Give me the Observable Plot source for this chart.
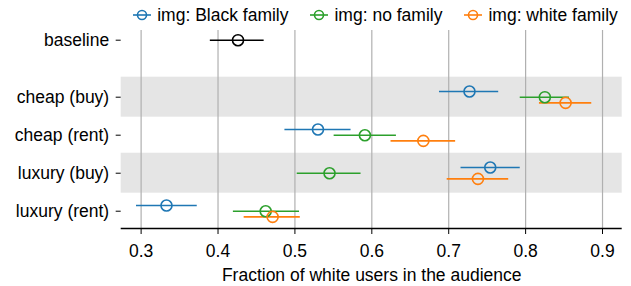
<!DOCTYPE html>
<html>
<head>
<meta charset="utf-8">
<script src="https://cdn.jsdelivr.net/npm/d3@7"></script>
<script src="https://cdn.jsdelivr.net/npm/@observablehq/plot@0.6"></script>
<style>
  html, body { margin: 0; padding: 0; background: #fff; }
  body { width: 631px; height: 286px; overflow: hidden; font-family: "Liberation Sans", Arial, Helvetica, sans-serif; }
  #legend { height: 30px; display: flex; justify-content: center; align-items: center; padding-left: 120px; box-sizing: border-box; width: 631px; font-size: 17.5px; color: #000; }
  .item { display: flex; align-items: center; margin: 0 11px; white-space: nowrap; }
  .item svg { margin-right: 6px; }
</style>
</head>
<body>
<div id="legend"></div>
<div id="chart"></div>
<script>
// ---- data ----
const categories = ["cheap (buy)", "cheap (rent)", "luxury (buy)", "luxury (rent)"];
const series = ["img: Black family", "img: no family", "img: white family"];
const colors = ["#1f77b4", "#2ca02c", "#ff7f0e"];
const shaded = ["cheap (buy)", "luxury (buy)"];

const blackVal = [0.727, 0.530, 0.754, 0.333];
const blackLo  = [0.688, 0.487, 0.716, 0.294];
const blackHi  = [0.765, 0.573, 0.793, 0.373];

const noVal = [0.825, 0.591, 0.545, 0.462];
const noLo  = [0.793, 0.551, 0.503, 0.420];
const noHi  = [0.857, 0.632, 0.586, 0.506];

const whiteVal = [0.852, 0.667, 0.738, 0.471];
const whiteLo  = [0.818, 0.625, 0.698, 0.434];
const whiteHi  = [0.886, 0.709, 0.778, 0.507];

const baselineLabel = "baseline";
const baselineVal = 0.426, baselineLo = 0.390, baselineHi = 0.460;

const xTicks = [0.3, 0.4, 0.5, 0.6, 0.7, 0.8, 0.9];
const xLabel = "Fraction of white users in the audience";

// ---- build table ----
const seriesData = [[blackVal, blackLo, blackHi], [noVal, noLo, noHi], [whiteVal, whiteLo, whiteHi]];
const offset = 0.15;
const basePos = -1.5;
const rows = [];
series.forEach((s, j) => {
  categories.forEach((c, i) => {
    rows.push({series: s, cat: c, pos: i + (j - 1) * offset,
               v: seriesData[j][0][i], lo: seriesData[j][1][i], hi: seriesData[j][2][i]});
  });
});
const base = [{series: baselineLabel, pos: basePos, v: baselineVal, lo: baselineLo, hi: baselineHi}];
const all = base.concat(rows);

const yTop = -1.755, yBottom = 3.455;
const tickPos = [basePos, ...categories.map((c, i) => i)];
const tickName = new Map([[basePos, baselineLabel], ...categories.map((c, i) => [i, c])]);
const bands = shaded.map(c => categories.indexOf(c));

const chart = Plot.plot({
  width: 631,
  height: 256,
  marginTop: 0,
  marginBottom: 58,
  marginLeft: 120.7,
  marginRight: 9.3,
  style: {fontFamily: "'Liberation Sans', Arial, Helvetica, sans-serif", fontSize: "17.5px", background: "#fff", overflow: "visible"},
  x: {domain: [0.2741, 0.9256]},
  y: {domain: [yBottom, yTop]},
  color: {domain: [baselineLabel, ...series], range: ["#000", ...colors]},
  marks: [
    Plot.rect(bands, {y1: d => d - 0.526, y2: d => d + 0.526, fill: "#e5e5e5"}),
    Plot.ruleX(xTicks, {stroke: "#b0b0b0", strokeWidth: 1.2}),
    Plot.ruleY([yBottom], {stroke: "#000", strokeWidth: 1.3}),
    Plot.ruleY(all, {y: "pos", x1: "lo", x2: "hi", stroke: "series", strokeWidth: 1.6}),
    Plot.dot(all, {x: "v", y: "pos", r: 5.5, stroke: "series", fill: "none", strokeWidth: 1.6}),
    Plot.axisY({ticks: tickPos, tickFormat: d => tickName.get(d), tickSize: 5, tickPadding: 7, label: null, fontSize: "17.5px"}),
    Plot.axisX({ticks: xTicks, tickFormat: d => String(d), tickSize: 6, tickPadding: 10, label: xLabel, labelAnchor: "center", labelArrow: "none", labelOffset: 52, fontSize: "17.5px"})
  ]
});
document.getElementById("chart").appendChild(chart);

// ---- legend ----
const legend = document.getElementById("legend");
series.forEach((s, j) => {
  const item = document.createElement("div");
  item.className = "item";
  item.innerHTML = `<svg width="18" height="12"><line x1="0" y1="6" x2="18" y2="6" stroke="${colors[j]}" stroke-width="1.6"/><circle cx="9" cy="6" r="4.5" fill="none" stroke="${colors[j]}" stroke-width="1.6"/></svg><span>${s}</span>`;
  legend.appendChild(item);
});
</script>
</body>
</html>
